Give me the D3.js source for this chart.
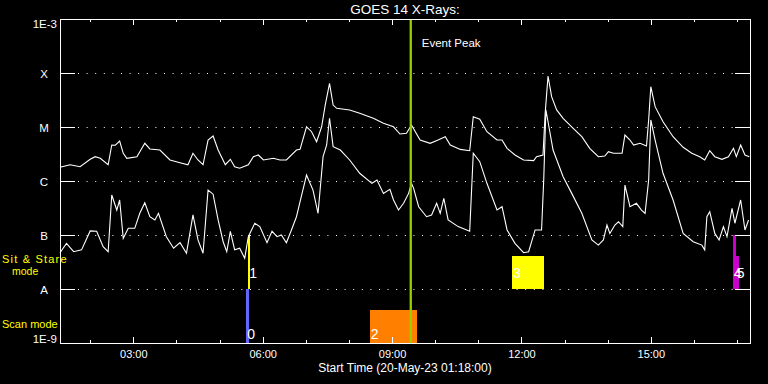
<!DOCTYPE html>
<html>
<head>
<meta charset="utf-8">
<script src="https://cdn.jsdelivr.net/npm/d3@7"></script>
<style>
html,body{margin:0;padding:0;background:#000;}
svg{display:block;}
text{font-family:"Liberation Sans",Arial,sans-serif;}
</style>
</head>
<body>
<svg id="chart" width="768" height="384"></svg>
<script>
// ---------------- data ----------------
const title = "GOES 14 X-Rays:";
const xAxisTitle = "Start Time (20-May-23 01:18:00)";
const timeStart = "01:18", timeEnd = "17:18";

const longTimes = ["01:18","01:32","01:46","02:00","02:07","02:14","02:25","02:30","02:35","02:41","02:46","02:51","03:05","03:16","03:23","03:37","03:51","04:05","04:16","04:23","04:30","04:37","04:44","04:51","04:58","05:08","05:15","05:21","05:28","05:40","05:47","05:54","06:01","06:15","06:24","06:33","06:47","06:52","07:01","07:08","07:15","07:22","07:27","07:33","07:38","07:43","08:01","08:15","08:34","08:48","09:02","09:11","09:20","09:27","09:39","09:53","10:04","10:14","10:21","10:35","10:48","10:53","11:02","11:12","11:26","11:33","11:40","11:51","12:03","12:17","12:21","12:30","12:33","12:37","12:42","12:49","12:58","13:12","13:24","13:35","13:47","13:56","14:01","14:08","14:20","14:24","14:31","14:36","14:45","14:54","14:57","15:00","15:06","15:17","15:31","15:45","15:57","16:08","16:15","16:22","16:29","16:39","16:48","16:55","16:59","17:05","17:11","17:17"];
const longFlux = [1.8e-6,2.0e-6,1.84e-6,2.52e-6,2.82e-6,2.63e-6,2.0e-6,4.64e-6,4.6e-6,5.5e-6,3.26e-6,2.63e-6,2.82e-6,4.99e-6,3.92e-6,3.75e-6,2.45e-6,2.18e-6,2.0e-6,3.26e-6,2.45e-6,2.0e-6,5.74e-6,6.81e-6,3.75e-6,2.0e-6,2.52e-6,1.84e-6,1.72e-6,2.0e-6,2.82e-6,3.03e-6,2.45e-6,2.63e-6,2.45e-6,2.45e-6,3.75e-6,3.85e-6,1.01e-5,8.18e-6,5.34e-6,1.01e-5,2.55e-5,6.44e-5,2.55e-5,2.22e-5,2.07e-5,1.79e-5,1.45e-5,1.17e-5,1.01e-5,7.41e-6,7.64e-6,1.09e-5,5.74e-6,4.99e-6,5.74e-6,6.61e-6,4.64e-6,3.85e-6,3.64e-6,1.55e-5,1.39e-5,8.18e-6,5.74e-6,5.74e-6,4.03e-6,3.03e-6,2.45e-6,2.38e-6,2.82e-6,3.03e-6,1.79e-5,8.8e-5,3.64e-5,2.07e-5,1.45e-5,9.46e-6,6.61e-6,4.03e-6,2.82e-6,2.9e-6,3.49e-6,3.26e-6,3.26e-6,7.11e-6,5.74e-6,4.64e-6,4.99e-6,4.45e-6,1.35e-5,5.57e-5,2.38e-5,1.25e-5,6.61e-6,4.21e-6,3.26e-6,2.82e-6,2.45e-6,3.64e-6,2.82e-6,2.52e-6,2.82e-6,4.03e-6,2.82e-6,4.64e-6,3.03e-6,2.82e-6];

const shortTimes = ["01:18","01:27","01:37","01:48","02:00","02:09","02:18","02:25","02:30","02:37","02:41","02:46","02:53","03:02","03:09","03:16","03:23","03:30","03:35","03:46","03:56","04:05","04:14","04:23","04:30","04:37","04:44","04:51","04:58","05:05","05:10","05:15","05:21","05:28","05:35","05:40","05:49","05:56","06:06","06:13","06:20","06:26","06:33","06:40","06:47","06:52","07:01","07:10","07:17","07:24","07:29","07:33","07:38","07:48","08:01","08:15","08:32","08:39","08:48","08:57","09:02","09:09","09:16","09:23","09:27","09:30","09:37","09:48","09:55","10:02","10:07","10:12","10:18","10:32","10:48","10:53","11:02","11:12","11:26","11:33","11:40","11:51","12:03","12:10","12:19","12:28","12:31","12:34","12:37","12:44","12:58","13:10","13:24","13:38","13:47","13:54","13:59","14:03","14:10","14:15","14:21","14:24","14:31","14:40","14:47","14:52","14:57","15:00","15:06","15:17","15:31","15:45","15:59","16:11","16:15","16:18","16:22","16:29","16:35","16:41","16:46","16:53","16:57","17:05","17:11","17:16"];
const shortFlux = [4.7e-8,7.0e-8,4.9e-8,5.3e-8,1.19e-7,1.17e-7,6.1e-8,4.9e-8,5.5e-7,2.9e-7,4.45e-7,8.7e-8,1.33e-7,1.33e-7,2.52e-7,3.96e-7,2.18e-7,1.9e-7,2.52e-7,9.3e-8,5.7e-8,7.2e-8,4.6e-8,2.35e-7,8.1e-8,4.6e-8,6.8e-7,5.7e-7,1.9e-7,7.5e-8,4.9e-8,1.17e-7,5.3e-8,5.7e-8,3.7e-8,9.3e-8,1.65e-7,1.43e-7,7.2e-8,1.17e-7,9.3e-8,1.0e-7,7.2e-8,1.24e-7,2.18e-7,4.14e-7,1.29e-6,6.8e-7,2.52e-7,2.82e-6,4.64e-6,1.45e-5,4.32e-6,3.75e-6,2.45e-6,1.39e-6,9.06e-7,1.04e-6,5.9e-7,7.0e-7,4.45e-7,2.9e-7,3.86e-7,5.9e-7,9.06e-7,7.3e-7,3.34e-7,2.18e-7,2.35e-7,3.86e-7,2.52e-7,4.79e-7,1.9e-7,1.43e-7,1.17e-7,3.26e-6,2.28e-6,9.06e-7,2.9e-7,3.34e-7,1.24e-7,7.0e-8,4.7e-8,4.9e-8,1.24e-7,1.24e-7,1.04e-6,2.07e-5,1.25e-5,3.75e-6,1.2e-6,5.9e-7,2.52e-7,8.1e-8,6.5e-8,8.1e-8,1.53e-7,1.07e-7,1.53e-7,1.76e-7,1.43e-7,8.4e-7,3.34e-7,3.86e-7,2.9e-7,2.52e-7,1.04e-6,1.35e-5,5.74e-6,1.39e-6,4.45e-7,1.07e-7,7.5e-8,6.5e-8,5.3e-8,2.18e-7,2.7e-7,1.07e-7,8.1e-8,1.43e-7,9.3e-8,3.12e-7,1.65e-7,4.45e-7,1.24e-7,1.9e-7];

const yTickValues = [1e-3,1e-4,1e-5,1e-6,1e-7,1e-8,1e-9];
const yTickLabels = ["1E-3","X","M","C","B","A","1E-9"];

const obsLabels = ["0","1","2","3","4","5"];
const obsStart  = ["05:37","05:40","08:29","11:47","16:54","16:58"];
const obsEnd    = ["05:41","05:42","09:34","12:31","16:58","17:02"];
const obsMode   = ["scan","sit","scan","sit","sit","sit"];
const obsTop    = [1e-8,1e-7,4.1e-9,4.1e-8,1e-7,4.1e-8];
const obsColors = ["#6464ff","#ffff00","#ff8000","#ffff00","#cc00cc","#cc00cc"];
const modeBase = {scan:1e-9, sit:1e-8};

const eventPeakTime = "09:26";
const eventPeakLabel = "Event Peak";

// ---------------- chart ----------------
const svg = d3.select("#chart");
svg.append("rect").attr("width",768).attr("height",384).attr("fill","#000");

const L=60, R=750, T=19, B=343;
const parseT = s => new Date(Date.UTC(2023,4,20,+s.slice(0,2),+s.slice(3,5)));
const x = d3.scaleUtc().domain([parseT(timeStart), parseT(timeEnd)]).range([L,R]);
const y = d3.scaleLog().domain([1e-9,1e-3]).range([B,T]);

// gridlines (dotted)
svg.append("g").selectAll("line").data(yTickValues.slice(1,-1)).join("line")
  .attr("x1",L+18).attr("x2",R-15)
  .attr("y1",d=>Math.round(y(d))+0.5).attr("y2",d=>Math.round(y(d))+0.5)
  .attr("stroke","#fff").attr("stroke-width",1).attr("stroke-dasharray","1,7.6");

// observation bars
const obs = obsLabels.map((l,i)=>({l, s:parseT(obsStart[i]), e:parseT(obsEnd[i]), m:obsMode[i], top:obsTop[i], c:obsColors[i]}));
svg.append("g").selectAll("rect").data(obs).join("rect")
  .attr("x",d=>x(d.s)).attr("width",d=>Math.max(1,x(d.e)-x(d.s)))
  .attr("y",d=>y(d.top)).attr("height",d=>y(modeBase[d.m])-y(d.top))
  .attr("fill",d=>d.c).attr("shape-rendering","crispEdges");

// curves
const line = d3.line().x(d=>x(d[0])).y(d=>y(d[1]));
const longData = longTimes.map((t,i)=>[parseT(t), longFlux[i]]);
const shortData = shortTimes.map((t,i)=>[parseT(t), shortFlux[i]]);
[longData, shortData].forEach(dat=>{
  svg.append("path").datum(dat).attr("d",line)
    .attr("fill","none").attr("stroke","#fff").attr("stroke-width",1.1);
});

// bar labels
svg.append("g").selectAll("text").data(obs).join("text")
  .attr("x",d=>x(d.s)+1)
  .attr("y",d=>d.m==="scan" ? y(modeBase.scan)-4 : y(modeBase.sit)-11)
  .attr("fill","#fff").attr("font-size",14).text(d=>d.l);

// event peak
svg.append("line").attr("x1",x(parseT(eventPeakTime))).attr("x2",x(parseT(eventPeakTime)))
  .attr("y1",T).attr("y2",B).attr("stroke","#9acd00").attr("stroke-width",2.3);
svg.append("text").attr("x",x(parseT(eventPeakTime))+11).attr("y",47)
  .attr("fill","#fff").attr("font-size",11.5).text(eventPeakLabel);

// axes
function styleAxis(g){
  g.select(".domain").remove();
  g.selectAll("line").attr("stroke","#fff").attr("shape-rendering","crispEdges");
  g.selectAll("text").attr("fill","#fff").attr("font-family","Liberation Sans, Arial, sans-serif");
}
const hourly = d3.utcHour.every(1), threeHourly = d3.utcHour.every(3);
svg.append("g").attr("transform",`translate(0,${B})`)
  .call(d3.axisBottom(x).ticks(hourly).tickSizeInner(-3).tickSizeOuter(0).tickFormat("")).call(styleAxis);
svg.append("g").attr("transform",`translate(0,${B})`)
  .call(d3.axisBottom(x).ticks(threeHourly).tickSizeInner(-6).tickSizeOuter(0).tickPadding(7).tickFormat(d3.utcFormat("%H:%M")))
  .call(styleAxis).selectAll("text").attr("font-size",11);
svg.append("g").attr("transform",`translate(0,${T})`)
  .call(d3.axisTop(x).ticks(hourly).tickSizeInner(-3).tickSizeOuter(0).tickFormat("")).call(styleAxis);
svg.append("g").attr("transform",`translate(0,${T})`)
  .call(d3.axisTop(x).ticks(threeHourly).tickSizeInner(-6).tickSizeOuter(0).tickFormat("")).call(styleAxis);
svg.append("g").attr("transform",`translate(${L},0)`)
  .call(d3.axisLeft(y).tickValues(yTickValues.slice(1,-1)).tickSizeInner(-15).tickSizeOuter(0).tickFormat("")).call(styleAxis);
svg.append("g").attr("transform",`translate(${R},0)`)
  .call(d3.axisRight(y).tickValues(yTickValues.slice(1,-1)).tickSizeInner(-15).tickSizeOuter(0).tickFormat("")).call(styleAxis);

// frame
svg.append("rect").attr("x",L+0.5).attr("y",T+0.5).attr("width",R-L).attr("height",B-T)
  .attr("fill","none").attr("stroke","#fff").attr("stroke-width",1).attr("shape-rendering","crispEdges");

// y labels
svg.append("g").selectAll("text").data(yTickValues).join("text")
  .attr("x",(d,i)=> (i===0||i===yTickValues.length-1) ? 57 : 44)
  .attr("text-anchor",(d,i)=> (i===0||i===yTickValues.length-1) ? "end" : "middle")
  .attr("y",(d,i)=> i===0 ? y(d)+8.5 : (i===yTickValues.length-1 ? y(d) : y(d)+5))
  .attr("fill","#fff").attr("font-size",11.5).text((d,i)=>yTickLabels[i]);

// mode labels
const modeLabel = svg.append("g").attr("fill","#ffff00").attr("font-size",11);
modeLabel.append("text").attr("x",2).attr("y",263).attr("letter-spacing",1.2).text("Sit & Stare");
modeLabel.append("text").attr("x",12).attr("y",274.5).attr("font-size",10.5).text("mode");
modeLabel.append("text").attr("x",2).attr("y",328).text("Scan mode");

// title & x title
svg.append("text").attr("x",(L+R)/2).attr("y",14).attr("text-anchor","middle")
  .attr("fill","#fff").attr("font-size",13.5).text(title);
svg.append("text").attr("x",(L+R)/2).attr("y",372).attr("text-anchor","middle")
  .attr("fill","#fff").attr("font-size",12).text(xAxisTitle);
</script>
</body>
</html>
